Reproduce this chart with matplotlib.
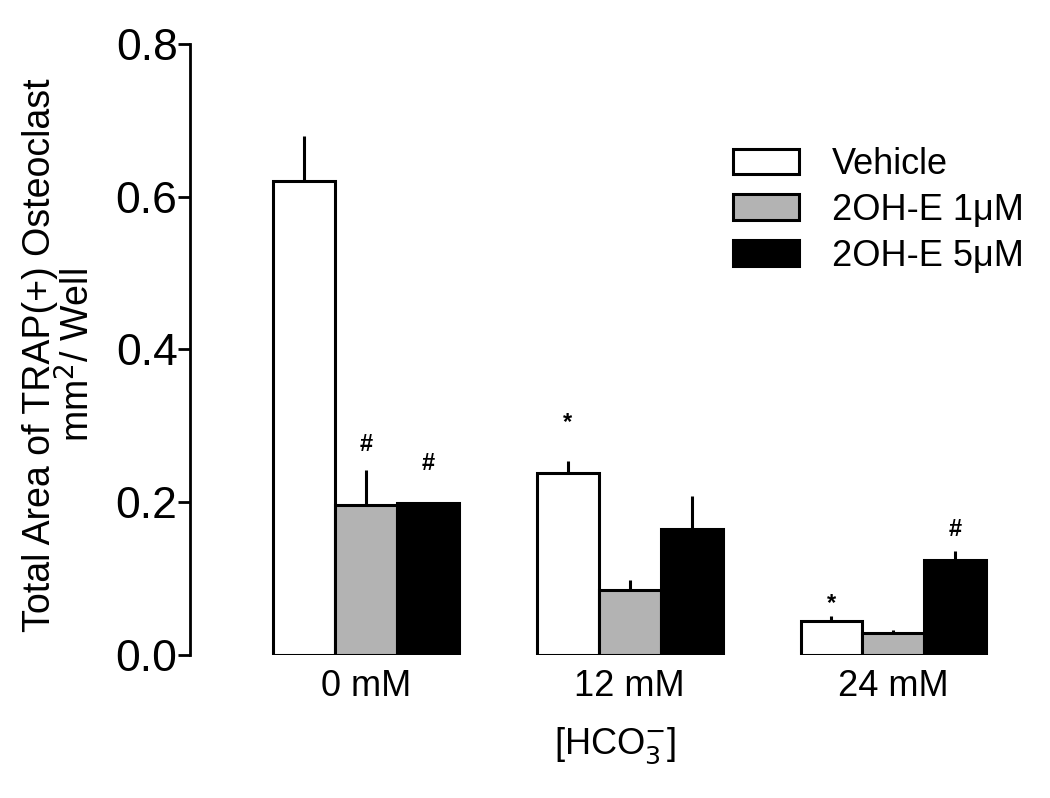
import numpy as np
import matplotlib.pyplot as plt
from matplotlib.patches import Patch

plt.rcParams['font.family'] = ['Liberation Sans', 'DejaVu Sans']

groups = ['0 mM', '12 mM', '24 mM']
series = ['Vehicle', '2OH-E 1\u03bcM', '2OH-E 5\u03bcM']
means = {
    'Vehicle': [0.62, 0.238, 0.045],
    '2OH-E 1\u03bcM': [0.196, 0.085, 0.029],
    '2OH-E 5\u03bcM': [0.199, 0.165, 0.124],
}
errs = {
    'Vehicle': [0.060, 0.016, 0.006],
    '2OH-E 1\u03bcM': [0.046, 0.013, 0.004],
    '2OH-E 5\u03bcM': [0.0, 0.043, 0.012],
}
colors = ['white', '#b3b3b3', 'black']
# significance marks: (group, series index, symbol, y)
marks = [(0, 1, '#', 0.275), (0, 2, '#', 0.251),
         (1, 0, '*', 0.305), (2, 0, '*', 0.068), (2, 2, '#', 0.164)]

fig = plt.figure(figsize=(10.5, 7.98), dpi=100)
ax = fig.add_axes([0.181, 0.1792, 0.810, 0.7657])

x = np.arange(len(groups))
w = 0.235
for i, s in enumerate(series):
    pos = x + (i - 1) * w
    ax.bar(pos, means[s], width=w, color=colors[i], edgecolor='black',
           linewidth=2.2, zorder=3)
    e = np.array(errs[s])
    ax.errorbar(pos, means[s], yerr=[np.zeros_like(e), e], fmt='none',
                ecolor='black', elinewidth=2.2, capsize=0, zorder=2)

for g, i, sym, yv in marks:
    ax.text(x[g] + (i - 1) * w, yv, sym, ha='center', va='center',
            fontsize=17, fontweight='bold')

ax.set_xlim(-0.668, 2.558)
ax.set_ylim(0, 0.8)
ax.set_yticks([0.0, 0.2, 0.4, 0.6, 0.8])
ax.set_yticklabels(['0.0', '0.2', '0.4', '0.6', '0.8'], fontsize=32)
ax.set_xticks(x)
ax.set_xticklabels(groups, fontsize=26)
ax.tick_params(axis='x', length=0, pad=10)
ax.tick_params(axis='y', length=9, width=2, pad=0)
for sp in ['top', 'right', 'bottom']:
    ax.spines[sp].set_visible(False)
ax.spines['left'].set_linewidth(2)

ax.set_xlabel('[HCO$_3^{-}$]', fontsize=26, labelpad=16)

fig.text(0.057, 0.555, 'Total Area of TRAP(+) Osteoclast\nmm$^2$/ Well',
         rotation=90, ha='center', va='center', fontsize=27,
         multialignment='center', linespacing=1.0)

handles = [Patch(facecolor=c, edgecolor='black', linewidth=2.2) for c in colors]
ax.legend(handles, series, loc='upper left', bbox_to_anchor=(0.684, 0.834),
          bbox_transform=fig.transFigure, frameon=False, fontsize=26,
          handlelength=1.85, handleheight=0.7, handletextpad=0.9,
          labelspacing=0.3, borderaxespad=0)

fig.savefig('out.png', dpi=100)
